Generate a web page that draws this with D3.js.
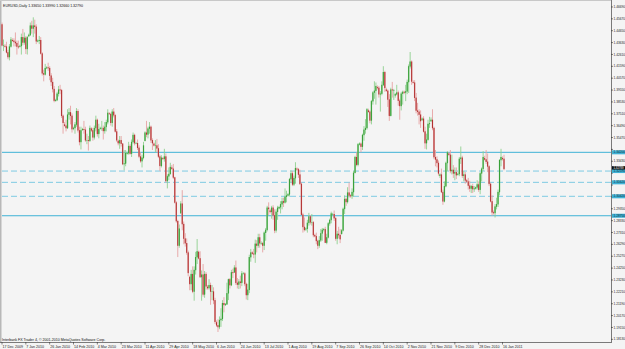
<!DOCTYPE html>
<html lang="en">
<head>
<meta charset="UTF-8">
<title>EURUSD,Daily</title>
<style>
  body { margin: 0; background: #f4f4f4; }
  svg { display: block; }
</style>
</head>
<body>
<svg id="svg" width="625" height="349"></svg>
<script src="https://d3js.org/d3.v7.min.js"></script>
<script>
// daily bars, 17 Dec 2009 .. 17 Jan 2011 (Sunday bars included)
const opens = [
  1.4520,1.4340,1.4335,1.4330,1.4280,1.4240,1.4330,1.4385,1.4380,1.4370,1.4360,1.4330,1.4330,1.4335,1.4410,1.4365,
  1.4405,1.4310,1.4420,1.4430,1.4510,1.4485,1.4510,1.4500,1.4375,1.4380,1.4385,1.4270,1.4100,1.4090,1.4145,1.4150,
  1.4145,1.4080,1.4025,1.3965,1.3865,1.3870,1.3925,1.3960,1.3955,1.3735,1.3660,1.3650,1.3630,1.3745,1.3765,1.3735,
  1.3625,1.3630,1.3660,1.3775,1.3610,1.3510,1.3615,1.3620,1.3615,1.3525,1.3525,1.3520,1.3625,1.3610,1.3550,1.3630,
  1.3700,1.3580,1.3625,1.3630,1.3630,1.3605,1.3640,1.3680,1.3755,1.3750,1.3675,1.3770,1.3740,1.3600,1.3520,1.3500,
  1.3525,1.3495,1.3320,1.3325,1.3410,1.3415,1.3475,1.3410,1.3510,1.3570,1.3500,1.3500,1.3460,1.3385,1.3345,1.3375,
  1.3520,1.3590,1.3575,1.3625,1.3640,1.3525,1.3495,1.3480,1.3480,1.3455,1.3385,1.3305,1.3370,1.3365,1.3385,1.3175,
  1.3215,1.3235,1.3290,1.3280,1.3205,1.2990,1.2830,1.2620,1.2900,1.2980,1.2805,1.2680,1.2640,1.2560,1.2350,1.2290,
  1.2375,1.2225,1.2410,1.2520,1.2565,1.2510,1.2350,1.2370,1.2200,1.2375,1.2265,1.2255,1.2280,1.2225,1.2225,1.2150,
  1.1960,1.1935,1.1920,1.1980,1.1990,1.2125,1.2110,1.2115,1.2210,1.2330,1.2280,1.2390,1.2390,1.2430,1.2300,1.2285,
  1.2310,1.2300,1.2380,1.2380,1.2290,1.2195,1.2240,1.2520,1.2560,1.2550,1.2545,1.2635,1.2620,1.2690,1.2640,1.2640,
  1.2620,1.2730,1.2755,1.2945,1.2920,1.2910,1.2945,1.2880,1.2750,1.2910,1.2940,1.2950,1.2975,1.3000,1.2990,1.3040,
  1.3050,1.3060,1.3190,1.3240,1.3145,1.3200,1.3280,1.3275,1.3230,1.3150,1.2885,1.2780,1.2760,1.2765,1.2815,1.2870,
  1.2820,1.2820,1.2710,1.2700,1.2660,1.2620,1.2665,1.2725,1.2755,1.2760,1.2645,1.2690,1.2810,1.2840,1.2890,1.2890,
  1.2855,1.2680,1.2720,1.2710,1.2720,1.2750,1.2935,1.3020,1.2995,1.3075,1.3050,1.3045,1.3080,1.3245,1.3380,1.3315,
  1.3490,1.3495,1.3470,1.3570,1.3615,1.3630,1.3780,1.3770,1.3695,1.3860,1.3935,1.3950,1.3980,1.3975,1.3920,1.3925,
  1.4000,1.4110,1.3960,1.3950,1.3875,1.3735,1.3960,1.3955,1.3910,1.3920,1.3935,1.3865,1.3820,1.3925,1.3940,1.3935,
  1.3945,1.4025,1.4160,1.4200,1.4025,1.4020,1.3890,1.3780,1.3770,1.3745,1.3700,1.3710,1.3600,1.3500,1.3530,1.3665,
  1.3690,1.3700,1.3630,1.3380,1.3360,1.3330,1.3220,1.3230,1.3080,1.3000,1.3130,1.3330,1.3410,1.3400,1.3260,1.3270,
  1.3240,1.3250,1.3230,1.3235,1.3365,1.3375,1.3220,1.3230,1.3180,1.3170,1.3135,1.3110,1.3130,1.3105,1.3110,1.3120,
  1.3145,1.3100,1.3240,1.3280,1.3370,1.3360,1.3340,1.3300,1.3150,1.3000,1.2905,1.2900,1.2955,1.2975,1.3080,1.3355,1.3370,1.3365
]
const highs = [
  1.4535,1.4390,1.4350,1.4370,1.4300,1.4350,1.4410,1.4400,1.4400,1.4450,1.4380,1.4380,1.4345,1.4440,1.4480,1.4450,
  1.4420,1.4420,1.4440,1.4535,1.4550,1.4580,1.4560,1.4520,1.4390,1.4420,1.4410,1.4280,1.4130,1.4180,1.4160,1.4190,
  1.4160,1.4100,1.4060,1.3990,1.3880,1.3940,1.3990,1.4000,1.3965,1.3745,1.3680,1.3700,1.3790,1.3800,1.3820,1.3755,
  1.3640,1.3680,1.3800,1.3790,1.3640,1.3640,1.3630,1.3690,1.3640,1.3580,1.3560,1.3650,1.3635,1.3630,1.3650,1.3735,
  1.3710,1.3665,1.3640,1.3690,1.3650,1.3680,1.3700,1.3790,1.3765,1.3760,1.3790,1.3800,1.3750,1.3620,1.3530,1.3560,
  1.3560,1.3500,1.3440,1.3440,1.3425,1.3510,1.3490,1.3530,1.3590,1.3580,1.3510,1.3530,1.3480,1.3420,1.3400,1.3510,
  1.3600,1.3690,1.3640,1.3680,1.3650,1.3540,1.3505,1.3525,1.3535,1.3490,1.3400,1.3395,1.3380,1.3450,1.3410,1.3230,
  1.3290,1.3330,1.3310,1.3320,1.3210,1.3000,1.2840,1.2800,1.3000,1.3095,1.2825,1.2725,1.2680,1.2575,1.2360,1.2410,
  1.2440,1.2440,1.2565,1.2675,1.2575,1.2570,1.2405,1.2460,1.2400,1.2390,1.2280,1.2330,1.2300,1.2280,1.2260,1.2170,
  1.1975,1.1985,1.2010,1.2080,1.2150,1.2175,1.2125,1.2300,1.2335,1.2340,1.2410,1.2420,1.2450,1.2490,1.2340,1.2330,
  1.2360,1.2400,1.2390,1.2390,1.2300,1.2290,1.2540,1.2590,1.2570,1.2590,1.2670,1.2665,1.2720,1.2720,1.2655,1.2650,
  1.2740,1.2770,1.2960,1.2990,1.2935,1.2960,1.2965,1.2930,1.2930,1.2960,1.2960,1.3000,1.3030,1.3030,1.3110,1.3090,
  1.3070,1.3200,1.3265,1.3260,1.3220,1.3335,1.3290,1.3285,1.3270,1.3160,1.2900,1.2860,1.2775,1.2840,1.2900,1.2880,
  1.2890,1.2830,1.2720,1.2730,1.2670,1.2700,1.2760,1.2770,1.2770,1.2780,1.2720,1.2820,1.2850,1.2910,1.2900,1.2920,
  1.2865,1.2745,1.2780,1.2760,1.2760,1.2945,1.3050,1.3030,1.3120,1.3160,1.3060,1.3110,1.3260,1.3390,1.3420,1.3500,
  1.3505,1.3505,1.3580,1.3645,1.3705,1.3800,1.3795,1.3780,1.3870,1.3945,1.4030,1.4020,1.3995,1.3990,1.3945,1.4030,
  1.4160,1.4120,1.3975,1.3960,1.3920,1.3975,1.4025,1.3965,1.3930,1.4000,1.3950,1.3880,1.3940,1.3950,1.3950,1.4000,
  1.4045,1.4175,1.4282,1.4210,1.4040,1.4040,1.3930,1.3845,1.3790,1.3780,1.3720,1.3730,1.3640,1.3580,1.3700,1.3725,
  1.3720,1.3790,1.3640,1.3440,1.3385,1.3350,1.3240,1.3280,1.3100,1.3170,1.3340,1.3430,1.3420,1.3440,1.3400,1.3310,
  1.3290,1.3290,1.3245,1.3380,1.3470,1.3390,1.3260,1.3250,1.3190,1.3200,1.3175,1.3140,1.3150,1.3130,1.3125,1.3180,
  1.3170,1.3250,1.3290,1.3430,1.3390,1.3440,1.3410,1.3310,1.3160,1.3050,1.2920,1.2975,1.3030,1.3100,1.3360,1.3450,1.3385,1.3399
]
const lows = [
  1.4330,1.4290,1.4320,1.4270,1.4220,1.4210,1.4320,1.4370,1.4330,1.4330,1.4260,1.4310,1.4320,1.4260,1.4340,1.4345,
  1.4265,1.4260,1.4410,1.4420,1.4440,1.4410,1.4440,1.4350,1.4365,1.4350,1.4260,1.4080,1.4030,1.4080,1.4135,1.4120,
  1.4040,1.3990,1.3935,1.3850,1.3855,1.3860,1.3900,1.3920,1.3715,1.3580,1.3640,1.3600,1.3620,1.3700,1.3660,1.3590,
  1.3610,1.3580,1.3640,1.3590,1.3480,1.3445,1.3605,1.3580,1.3510,1.3490,1.3435,1.3510,1.3595,1.3520,1.3530,1.3600,
  1.3555,1.3540,1.3615,1.3605,1.3530,1.3580,1.3600,1.3660,1.3745,1.3650,1.3640,1.3720,1.3590,1.3510,1.3480,1.3450,
  1.3470,1.3310,1.3265,1.3300,1.3400,1.3400,1.3400,1.3380,1.3495,1.3480,1.3490,1.3440,1.3370,1.3330,1.3290,1.3360,
  1.3515,1.3550,1.3540,1.3580,1.3500,1.3440,1.3470,1.3420,1.3420,1.3370,1.3260,1.3290,1.3355,1.3340,1.3160,1.3110,
  1.3180,1.3230,1.3270,1.3190,1.2980,1.2815,1.2520,1.2600,1.2890,1.2750,1.2630,1.2610,1.2540,1.2355,1.2235,1.2235,
  1.2210,1.2145,1.2370,1.2460,1.2500,1.2340,1.2145,1.2180,1.2170,1.2240,1.2240,1.2240,1.2110,1.2150,1.2115,1.1945,
  1.1920,1.1876,1.1900,1.1920,1.1970,1.2045,1.2100,1.2110,1.2150,1.2250,1.2270,1.2340,1.2385,1.2280,1.2250,1.2245,
  1.2250,1.2270,1.2370,1.2270,1.2155,1.2150,1.2210,1.2480,1.2540,1.2510,1.2470,1.2560,1.2600,1.2600,1.2625,1.2560,
  1.2580,1.2660,1.2740,1.2880,1.2895,1.2850,1.2840,1.2725,1.2730,1.2840,1.2930,1.2895,1.2930,1.2950,1.2980,1.2990,
  1.3040,1.3040,1.3160,1.3130,1.3130,1.3150,1.3260,1.3200,1.3140,1.2880,1.2730,1.2740,1.2745,1.2730,1.2790,1.2800,
  1.2790,1.2690,1.2690,1.2630,1.2588,1.2600,1.2650,1.2660,1.2740,1.2640,1.2630,1.2680,1.2790,1.2810,1.2880,1.2830,
  1.2660,1.2630,1.2680,1.2640,1.2715,1.2740,1.2890,1.2960,1.2980,1.3030,1.3030,1.3020,1.3040,1.3240,1.3300,1.3300,
  1.3480,1.3420,1.3440,1.3520,1.3580,1.3615,1.3760,1.3670,1.3660,1.3830,1.3880,1.3830,1.3960,1.3890,1.3770,1.3910,
  1.3990,1.3940,1.3940,1.3810,1.3690,1.3730,1.3890,1.3870,1.3890,1.3910,1.3820,1.3700,1.3780,1.3830,1.3920,1.3860,
  1.3920,1.3930,1.4140,1.4000,1.4010,1.3860,1.3755,1.3735,1.3660,1.3630,1.3690,1.3590,1.3450,1.3445,1.3520,1.3630,
  1.3680,1.3610,1.3360,1.3300,1.3290,1.3220,1.3200,1.3070,1.2969,1.2990,1.3120,1.3260,1.3390,1.3240,1.3230,1.3200,
  1.3180,1.3190,1.3220,1.3215,1.3320,1.3200,1.3170,1.3150,1.3160,1.3100,1.3080,1.3070,1.3070,1.3080,1.3100,1.3100,
  1.3080,1.3060,1.3170,1.3260,1.3350,1.3320,1.3250,1.3130,1.2990,1.2875,1.2885,1.2860,1.2930,1.2950,1.3050,1.3300,1.3350,1.3266
]
const closes = [
  1.4340,1.4340,1.4330,1.4280,1.4240,1.4330,1.4390,1.4380,1.4370,1.4360,1.4330,1.4325,1.4335,1.4410,1.4365,1.4405,
  1.4310,1.4410,1.4430,1.4510,1.4485,1.4510,1.4500,1.4375,1.4380,1.4385,1.4270,1.4100,1.4090,1.4145,1.4150,1.4145,
  1.4080,1.4025,1.3965,1.3865,1.3870,1.3925,1.3960,1.3955,1.3735,1.3675,1.3650,1.3630,1.3745,1.3765,1.3735,1.3620,
  1.3630,1.3660,1.3775,1.3610,1.3510,1.3610,1.3620,1.3615,1.3525,1.3525,1.3520,1.3630,1.3610,1.3550,1.3630,1.3700,
  1.3580,1.3620,1.3630,1.3630,1.3605,1.3640,1.3680,1.3760,1.3750,1.3675,1.3770,1.3740,1.3600,1.3525,1.3500,1.3525,
  1.3495,1.3320,1.3325,1.3415,1.3415,1.3475,1.3410,1.3510,1.3570,1.3500,1.3500,1.3460,1.3385,1.3345,1.3375,1.3480,
  1.3590,1.3575,1.3625,1.3640,1.3525,1.3500,1.3480,1.3480,1.3455,1.3385,1.3305,1.3375,1.3365,1.3385,1.3175,1.3215,
  1.3235,1.3295,1.3280,1.3205,1.2990,1.2830,1.2620,1.2765,1.2980,1.2805,1.2680,1.2640,1.2560,1.2385,1.2290,1.2375,
  1.2225,1.2410,1.2520,1.2570,1.2510,1.2350,1.2370,1.2200,1.2375,1.2270,1.2255,1.2280,1.2225,1.2225,1.2150,1.1965,
  1.1935,1.1920,1.1980,1.1990,1.2125,1.2110,1.2115,1.2210,1.2330,1.2280,1.2390,1.2385,1.2430,1.2300,1.2285,1.2310,
  1.2300,1.2380,1.2380,1.2290,1.2195,1.2240,1.2520,1.2560,1.2550,1.2545,1.2635,1.2620,1.2690,1.2640,1.2640,1.2620,
  1.2730,1.2755,1.2945,1.2935,1.2910,1.2945,1.2880,1.2750,1.2910,1.2945,1.2950,1.2975,1.3000,1.2990,1.3040,1.3050,
  1.3060,1.3190,1.3240,1.3145,1.3200,1.3285,1.3275,1.3230,1.3150,1.2885,1.2780,1.2755,1.2765,1.2815,1.2870,1.2820,
  1.2820,1.2710,1.2700,1.2660,1.2620,1.2665,1.2725,1.2755,1.2760,1.2645,1.2690,1.2810,1.2840,1.2895,1.2890,1.2855,
  1.2680,1.2720,1.2710,1.2675,1.2750,1.2935,1.3020,1.2995,1.3075,1.3050,1.3045,1.3080,1.3245,1.3380,1.3315,1.3490,
  1.3495,1.3470,1.3570,1.3615,1.3630,1.3790,1.3770,1.3695,1.3860,1.3935,1.3950,1.3990,1.3975,1.3920,1.3925,1.4000,
  1.4110,1.3975,1.3950,1.3875,1.3735,1.3960,1.3955,1.3955,1.3920,1.3935,1.3865,1.3820,1.3925,1.3940,1.3935,1.3945,
  1.4025,1.4160,1.4200,1.4030,1.4020,1.3890,1.3780,1.3770,1.3745,1.3690,1.3710,1.3600,1.3500,1.3530,1.3665,1.3670,
  1.3700,1.3630,1.3380,1.3360,1.3330,1.3240,1.3230,1.3080,1.3000,1.3130,1.3330,1.3420,1.3400,1.3260,1.3270,1.3240,
  1.3250,1.3225,1.3235,1.3365,1.3375,1.3220,1.3230,1.3180,1.3170,1.3135,1.3110,1.3130,1.3105,1.3110,1.3120,1.3145,
  1.3100,1.3240,1.3280,1.3380,1.3360,1.3340,1.3300,1.3150,1.3000,1.2905,1.2900,1.2955,1.2975,1.3080,1.3355,1.3380,1.3365,1.3279
]

const dateLabels = ['17 Dec 2009','7 Jan 2010','26 Jan 2010','14 Feb 2010','4 Mar 2010','23 Mar 2010',
  '11 Apr 2010','29 Apr 2010','18 May 2010','6 Jun 2010','24 Jun 2010','13 Jul 2010','1 Aug 2010',
  '19 Aug 2010','7 Sep 2010','26 Sep 2010','14 Oct 2010','2 Nov 2010','21 Nov 2010','9 Dec 2010',
  '28 Dec 2010','16 Jan 2011']
const dateLabelBars = [0,16,32,48,64,80,96,112,128,144,160,176,192,208,224,240,256,272,288,304,320,336]

const yTicks = [1.46690,1.45670,1.44650,1.43630,1.42610,1.41590,1.40570,1.39550,1.38530,1.37510,
  1.36490,1.35470,1.34450,1.33430,1.32410,1.31390,1.30370,1.29350,1.28330,1.27310,1.26290,
  1.25270,1.24250,1.23230,1.22210,1.21190,1.20170,1.19150,1.18130]

const solidLevels = [1.34200, 1.28750]
const dashedLevels = [1.32590, 1.31620, 1.30420]
const bidPrice = 1.32789

const plotRight = 611
const plotBottom = 342
const font = 'Liberation Sans, Arial, sans-serif'
const axisFont = '3.2px'

const xScale = d3.scaleLinear()
  .domain([0, 337])
  .range([2, 504])
const yScale = d3.scaleLinear()
  .domain([1.1876, 1.4282])
  .range([332, 52])

const svg = d3.select('#svg')

svg.append('rect')
  .attr('width', 625).attr('height', 349)
  .attr('fill', '#f4f4f4')
svg.append('rect')
  .attr('x', 0).attr('y', 0).attr('width', 1.5).attr('height', plotBottom)
  .attr('fill', '#b8b8b8')
svg.append('line')
  .attr('x1', 0).attr('x2', plotRight).attr('y1', 0.5).attr('y2', 0.5)
  .attr('stroke', '#c8c8c8')

// level lines
svg.selectAll('.solid')
  .data(solidLevels)
  .enter()
  .append('line')
  .attr('x1', 2).attr('x2', plotRight)
  .attr('y1', d => yScale(d)).attr('y2', d => yScale(d))
  .attr('stroke', '#3fb2d6')
  .attr('stroke-width', 1)
svg.selectAll('.dashed')
  .data(dashedLevels)
  .enter()
  .append('line')
  .attr('x1', 2).attr('x2', plotRight)
  .attr('y1', d => yScale(d)).attr('y2', d => yScale(d))
  .attr('stroke', '#7fcbe3')
  .attr('stroke-width', 1)
  .attr('stroke-dasharray', '6,3')

// candles
const bars = d3.range(closes.length)
const up = i => closes[i] >= opens[i]
const candles = svg.append('g')
  .selectAll('g')
  .data(bars)
  .enter()
  .append('g')
candles.append('line')
  .attr('x1', i => xScale(i)).attr('x2', i => xScale(i))
  .attr('y1', i => yScale(highs[i])).attr('y2', i => yScale(lows[i]))
  .attr('stroke', i => up(i) ? '#8fd08f' : '#e6a3a3')
  .attr('stroke-width', 0.9)
candles.append('rect')
  .attr('x', i => xScale(i) - 0.7)
  .attr('width', 1.4)
  .attr('y', i => yScale(Math.max(opens[i], closes[i])))
  .attr('height', i => Math.max(0.7, Math.abs(yScale(opens[i]) - yScale(closes[i]))))
  .attr('fill', i => up(i) ? '#8fd08f' : '#e6a3a3')
candles.append('line')
  .attr('x1', i => xScale(i)).attr('x2', i => xScale(i))
  .attr('y1', i => yScale(Math.max(opens[i], closes[i])))
  .attr('y2', i => yScale(Math.min(opens[i], closes[i])) + 0.4)
  .attr('stroke', i => up(i) ? '#1f921f' : '#a31212')
  .attr('stroke-width', 0.8)

// frame
svg.append('line')
  .attr('x1', plotRight + 0.5).attr('x2', plotRight + 0.5)
  .attr('y1', 0).attr('y2', plotBottom)
  .attr('stroke', '#7a7a7a')
svg.append('line')
  .attr('x1', 0).attr('x2', plotRight + 1)
  .attr('y1', plotBottom + 0.5).attr('y2', plotBottom + 0.5)
  .attr('stroke', '#7a7a7a')

// price axis; labels hidden behind a tag are left out
const tags = solidLevels.concat(dashedLevels)
const tagYs = tags.concat([bidPrice]).map(d => yScale(d))
const shownTicks = yTicks.filter(d => tagYs.every(t => Math.abs(yScale(d) - t) > 3))
const yAxis = svg.append('g')
yAxis.selectAll('line')
  .data(yTicks)
  .enter()
  .append('line')
  .attr('x1', plotRight).attr('x2', plotRight + 2)
  .attr('y1', d => yScale(d)).attr('y2', d => yScale(d))
  .attr('stroke', '#333')
  .attr('stroke-width', 0.6)
yAxis.selectAll('text')
  .data(shownTicks)
  .enter()
  .append('text')
  .text(d => d.toFixed(5))
  .attr('x', plotRight + 2.5)
  .attr('y', d => yScale(d) + 1.1)
  .style('font-family', font)
  .style('font-size', axisFont)
  .attr('fill', '#222')

// level tags on the price axis
const tagGroups = svg.selectAll('.tag')
  .data(tags)
  .enter()
  .append('g')
tagGroups.append('rect')
  .attr('x', plotRight + 1).attr('width', 13)
  .attr('y', d => yScale(d) - 2).attr('height', 4)
  .attr('fill', '#3fb2d6')
tagGroups.append('text')
  .text(d => d.toFixed(5))
  .attr('x', plotRight + 2.5)
  .attr('y', d => yScale(d) + 1.1)
  .style('font-family', font)
  .style('font-size', axisFont)
  .attr('fill', '#10303a')
svg.append('rect')
  .attr('x', plotRight + 1).attr('width', 13)
  .attr('y', yScale(bidPrice) - 2.6).attr('height', 3.4)
  .attr('fill', '#111')
svg.append('text')
  .text(bidPrice.toFixed(5))
  .attr('x', plotRight + 2.5)
  .attr('y', yScale(bidPrice) + 0.2)
  .style('font-family', font)
  .style('font-size', '2.8px')
  .attr('fill', '#fff')

// time axis
const xAxis = svg.append('g')
xAxis.selectAll('line')
  .data(dateLabelBars)
  .enter()
  .append('line')
  .attr('x1', d => xScale(d)).attr('x2', d => xScale(d))
  .attr('y1', plotBottom).attr('y2', plotBottom + 2.5)
  .attr('stroke', '#333')
  .attr('stroke-width', 0.6)
xAxis.selectAll('text')
  .data(dateLabels)
  .enter()
  .append('text')
  .text(d => d)
  .attr('x', (d, i) => xScale(dateLabelBars[i]) + 0.5)
  .attr('y', 347.5)
  .style('font-family', font)
  .style('font-size', '3.6px')
  .attr('fill', '#222')

// header and footer text
const last = closes.length - 1
svg.append('text')
  .text('EURUSD,Daily  ' + [opens[last], highs[last], lows[last], closes[last]].map(v => v.toFixed(5)).join(' '))
  .attr('x', 3).attr('y', 6.5)
  .style('font-family', font)
  .style('font-size', '3.6px')
  .attr('fill', '#111')
svg.append('text')
  .text('Interbank FX Trader 4, \u00a9 2001-2010 MetaQuotes Software Corp.')
  .attr('x', 2).attr('y', 340.5)
  .style('font-family', font)
  .style('font-size', '3.6px')
  .attr('fill', '#111')
</script>
</body>
</html>
